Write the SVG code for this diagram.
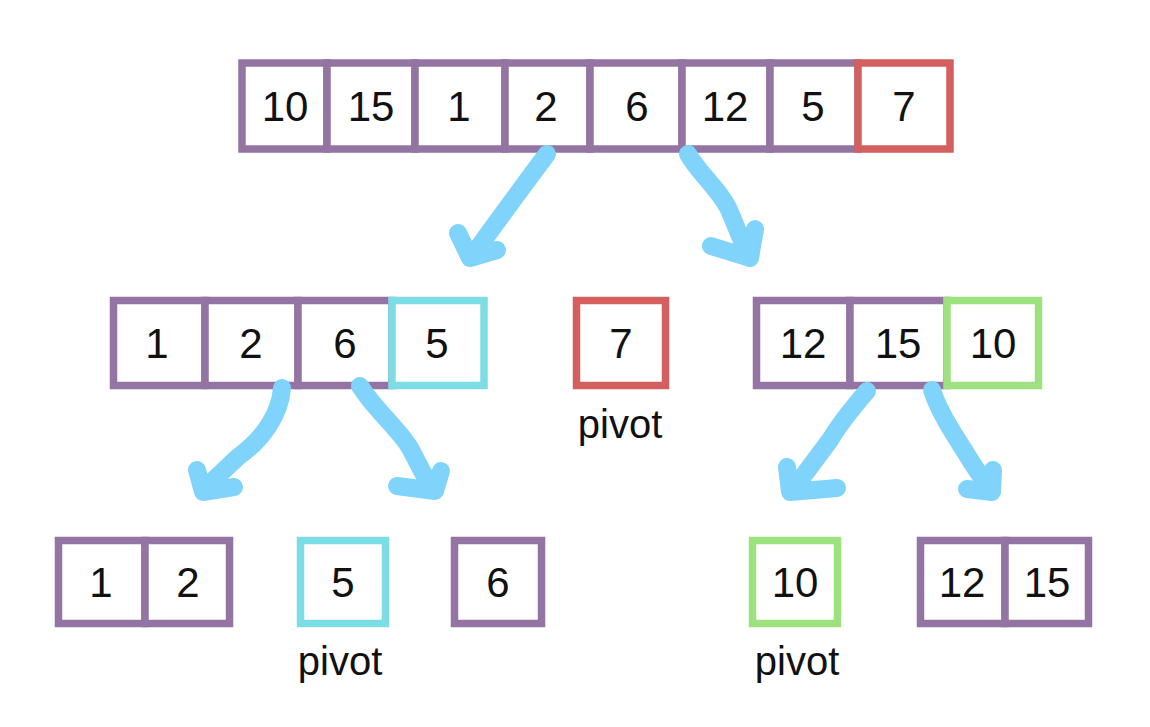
<svg xmlns="http://www.w3.org/2000/svg" width="1150" height="727" viewBox="0 0 1150 727">
<style>
.cell{fill:#ffffff;stroke-width:7.5}
.p{stroke:#9474a3}
.r{stroke:#d45f5f}
.c{stroke:#7ddde5}
.g{stroke:#9de27f}
.num{font-family:"Liberation Sans","DejaVu Sans",sans-serif;font-size:42px;fill:#111111;text-anchor:middle}
.lbl{font-family:"Liberation Sans","DejaVu Sans",sans-serif;font-size:40px;fill:#111111;text-anchor:middle}
.arr{fill:none;stroke:#80d4fb;stroke-width:18;stroke-linecap:round;stroke-linejoin:round}
</style>
<rect width="1150" height="727" fill="#ffffff"/>

<g id="top-array">
<rect class="cell p" x="242" y="63" width="85" height="86"/>
<rect class="cell p" x="327" y="63" width="88" height="86"/>
<rect class="cell p" x="415" y="63" width="90" height="86"/>
<rect class="cell p" x="505" y="63" width="85" height="86"/>
<rect class="cell p" x="590" y="63" width="92" height="86"/>
<rect class="cell p" x="682" y="63" width="88" height="86"/>
<rect class="cell p" x="770" y="63" width="88" height="86"/>
<rect class="cell r" x="858" y="63" width="92" height="86"/>
<text class="num" x="285" y="121">10</text>
<text class="num" x="371" y="121">15</text>
<text class="num" x="459" y="121">1</text>
<text class="num" x="546" y="121">2</text>
<text class="num" x="637" y="121">6</text>
<text class="num" x="725" y="121">12</text>
<text class="num" x="813" y="121">5</text>
<text class="num" x="904" y="121">7</text>
</g>

<g id="left-array">
<rect class="cell p" x="113.5" y="300.5" width="91.5" height="85"/>
<rect class="cell p" x="205" y="300.5" width="93" height="85"/>
<rect class="cell p" x="298" y="300.5" width="94" height="85"/>
<rect class="cell c" x="392" y="300.5" width="92" height="85"/>
<text class="num" x="157" y="358">1</text>
<text class="num" x="251" y="358">2</text>
<text class="num" x="345" y="358">6</text>
<text class="num" x="437" y="358">5</text>
</g>

<g id="pivot-7">
<rect class="cell r" x="576.5" y="300.5" width="89" height="85"/>
<text class="num" x="621" y="358">7</text>
<text class="lbl" x="620" y="438">pivot</text>
</g>

<g id="right-array">
<rect class="cell p" x="756.5" y="300.5" width="93.5" height="85"/>
<rect class="cell p" x="850" y="300.5" width="97" height="85"/>
<rect class="cell g" x="947" y="300.5" width="91.5" height="85"/>
<text class="num" x="803" y="358">12</text>
<text class="num" x="898" y="358">15</text>
<text class="num" x="993" y="358">10</text>
</g>

<g id="bottom-1-2">
<rect class="cell p" x="58.5" y="540.5" width="86.5" height="83"/>
<rect class="cell p" x="145" y="540.5" width="84.5" height="83"/>
<text class="num" x="101" y="597">1</text>
<text class="num" x="188" y="597">2</text>
</g>

<g id="pivot-5">
<rect class="cell c" x="300.5" y="540.5" width="85" height="83"/>
<text class="num" x="343" y="597">5</text>
<text class="lbl" x="340" y="675">pivot</text>
</g>

<g id="bottom-6">
<rect class="cell p" x="454.5" y="540.5" width="87" height="83"/>
<text class="num" x="498" y="597">6</text>
</g>

<g id="pivot-10">
<rect class="cell g" x="752.5" y="540.5" width="85" height="83"/>
<text class="num" x="795" y="597">10</text>
<text class="lbl" x="797" y="675">pivot</text>
</g>

<g id="bottom-12-15">
<rect class="cell p" x="920.5" y="540.5" width="84.5" height="83"/>
<rect class="cell p" x="1005" y="540.5" width="83.5" height="83"/>
<text class="num" x="962" y="597">12</text>
<text class="num" x="1047" y="597">15</text>
</g>

<g id="connectors">
<path class="arr" d="M547,154 Q520,190 472,256 M458,233 L470,258 L497,250"/>
<path class="arr" d="M688,154 C700,175 722,192 730,212 L749,258 M711,246 L750,258 L755,229"/>
<path class="arr" d="M282,388 C280,415 262,440 238,457 L203,490 M197,470 L203,492 L234,487"/>
<path class="arr" d="M360,386 C375,410 398,428 410,448 L432,490 M397,486 L435,491 L441,471"/>
<path class="arr" d="M867,391 C855,405 840,423 830,440 L792,491 M787,467 L790,492 L837,488"/>
<path class="arr" d="M932,390 C940,415 958,440 972,463 L990,490 M967,489 L992,492 L993,470"/>
</g>
</svg>
